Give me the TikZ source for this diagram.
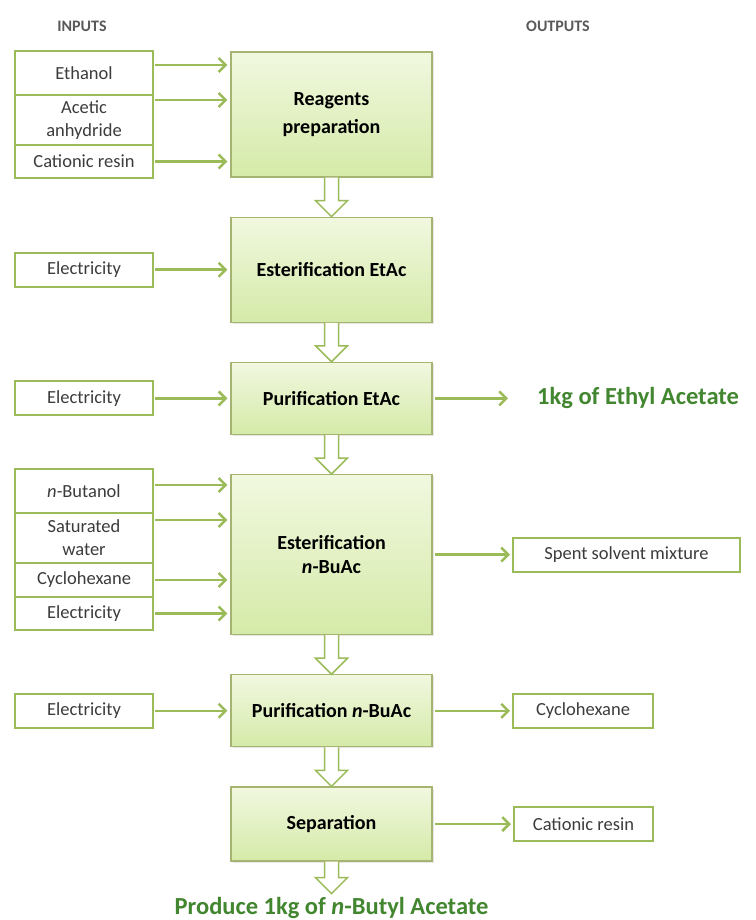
\documentclass[tikz,border=0pt]{standalone}
\usepackage{fontspec}
\setmainfont{Carlito}
\usepackage{tikz}
\usetikzlibrary{arrows.meta, positioning, shadows, calc}
\definecolor{flowgreen}{RGB}{155, 187, 89}
\definecolor{stageedge}{RGB}{165, 180, 112}
\definecolor{stagetop}{RGB}{241, 248, 224}
\definecolor{stagebottom}{RGB}{213, 234, 168}
\definecolor{productgreen}{RGB}{66, 134, 48}
\definecolor{labelgray}{RGB}{60, 60, 60}

% hollow block arrow between two stages
\newcommand{\hollowdown}[2]{%
  \draw[hollow] ($(#1)+(-7,0)$) -- ($(#2)+(-7,-16)$) -- ($(#2)+(-16,-16)$) -- (#2)
    -- ($(#2)+(16,-16)$) -- ($(#2)+(7,-16)$) -- ($(#1)+(7,0)$);}

\begin{document}
\begin{tikzpicture}[x=1pt, y=-1pt, node distance=39pt]
    % Styles
    \tikzstyle{stage} = [rectangle, draw=stageedge, line width=1.2pt, top color=stagetop, bottom color=stagebottom, text centered, align=center, minimum width=201pt, font=\fontsize{20}{24}\selectfont\bfseries, drop shadow={opacity=0.2, shadow xshift=1.5pt, shadow yshift=-1.5pt}]
    \tikzstyle{inbox} = [rectangle, draw=flowgreen, line width=2pt, fill=white, text=labelgray, align=center, minimum width=138pt, minimum height=34pt, inner sep=2pt, outer sep=0pt, font=\fontsize{18.5}{23}\selectfont]
    \tikzstyle{heading} = [text=labelgray!85, font=\fontsize{16}{18}\selectfont\bfseries]
    \tikzstyle{product} = [text=productgreen, inner sep=0pt, font=\fontsize{24.5}{28}\selectfont\bfseries]
    \tikzstyle{arrow} = [line width=2.5pt, flowgreen, -{Straight Barb[length=7pt, width=14pt]}, shorten <=2pt, shorten >=3pt]
    \tikzstyle{hollow} = [draw=flowgreen, line width=1.5pt, fill=white, line join=miter]

    \useasboundingbox (0,0) rectangle (755,920);

    % Headings
    \node [heading] (inputs) at (82,26) {INPUTS};
    \node [heading] (outputs) at (558,26) {OUTPUTS};

    % Process stages
    \node [stage, minimum height=125pt] (reagents) at (331.5,114.5) {Reagents\\[4pt]preparation};
    \node [stage, minimum height=105pt, below=of reagents] (esteretac) {Esterification EtAc};
    \node [stage, minimum height=72pt, below=of esteretac] (purietac) {Purification EtAc};
    \node [stage, minimum height=160pt, below=of purietac] (esterbuac) {Esterification\\\textit{n}-BuAc};
    \node [stage, minimum height=72pt, below=of esterbuac] (puribuac) {Purification \textit{n}-BuAc};
    \node [stage, minimum height=74pt, below=of puribuac] (separation) {Separation};
    \coordinate [below=32pt of separation] (finish);
    \node [product, anchor=base] (butylacetate) at ([yshift=-21pt]finish) {Produce 1kg of \textit{n}-Butyl Acetate};

    % Inputs
    \node [inbox, minimum height=44pt, anchor=north] (ethanol) at (84,51) {Ethanol};
    \node [inbox, minimum height=50pt, below=0pt of ethanol] (anhydride) {Acetic\\anhydride};
    \node [inbox, minimum height=33pt, below=0pt of anhydride] (resinin) {Cationic resin};
    \node [inbox] (power1) at (84,0 |- esteretac) {Electricity};
    \node [inbox] (power2) at (84,0 |- purietac) {Electricity};
    \node [inbox, minimum height=44pt, anchor=north] (butanol) at (84,469) {\textit{n}-Butanol};
    \node [inbox, minimum height=50pt, below=0pt of butanol] (water) {Saturated\\water};
    \node [inbox, minimum height=34pt, below=0pt of water] (cyclohexin) {Cyclohexane};
    \node [inbox, minimum height=33pt, below=0pt of cyclohexin] (power3) {Electricity};
    \node [inbox] (power4) at (84,0 |- puribuac) {Electricity};

    % Outputs
    \node [product, anchor=west] (ethylacetate) at (537,0 |- purietac) {1kg of Ethyl Acetate};
    \node [inbox, anchor=west, minimum width=227pt] (spent) at (513,0 |- esterbuac) {Spent solvent mixture};
    \node [inbox, anchor=west, minimum width=140pt] (cyclohexout) at (513,0 |- puribuac) {Cyclohexane};
    \node [inbox, anchor=west, minimum width=139pt] (resinout) at (514,0 |- separation) {Cationic resin};

    % Arrows
    \draw [arrow] ([yshift=8pt]ethanol.east) -- ([yshift=8pt]ethanol.east -| reagents.west);
    \draw [arrow] ([yshift=20pt]anhydride.east) -- ([yshift=20pt]anhydride.east -| reagents.west);
    \draw [arrow] (resinin.east) -- (resinin.east -| reagents.west);
    \draw [arrow] (power1) -- (esteretac);
    \draw [arrow] (power2) -- (purietac);
    \draw [arrow] ([yshift=6pt]butanol.east) -- ([yshift=6pt]butanol.east -| esterbuac.west);
    \draw [arrow] ([yshift=18pt]water.east) -- ([yshift=18pt]water.east -| esterbuac.west);
    \draw [arrow] (cyclohexin.east) -- (cyclohexin.east -| esterbuac.west);
    \draw [arrow] (power3.east) -- (power3.east -| esterbuac.west);
    \draw [arrow] (power4) -- (puribuac);
    \draw [arrow, shorten >=29pt] (purietac) -- (ethylacetate);
    \draw [arrow] (esterbuac) -- (spent);
    \draw [arrow] (puribuac) -- (cyclohexout);
    \draw [arrow] (separation) -- (resinout);

    \hollowdown{reagents.south}{esteretac.north}
    \hollowdown{esteretac.south}{purietac.north}
    \hollowdown{purietac.south}{esterbuac.north}
    \hollowdown{esterbuac.south}{puribuac.north}
    \hollowdown{puribuac.south}{separation.north}
    \hollowdown{separation.south}{finish}
\end{tikzpicture}
\end{document}
